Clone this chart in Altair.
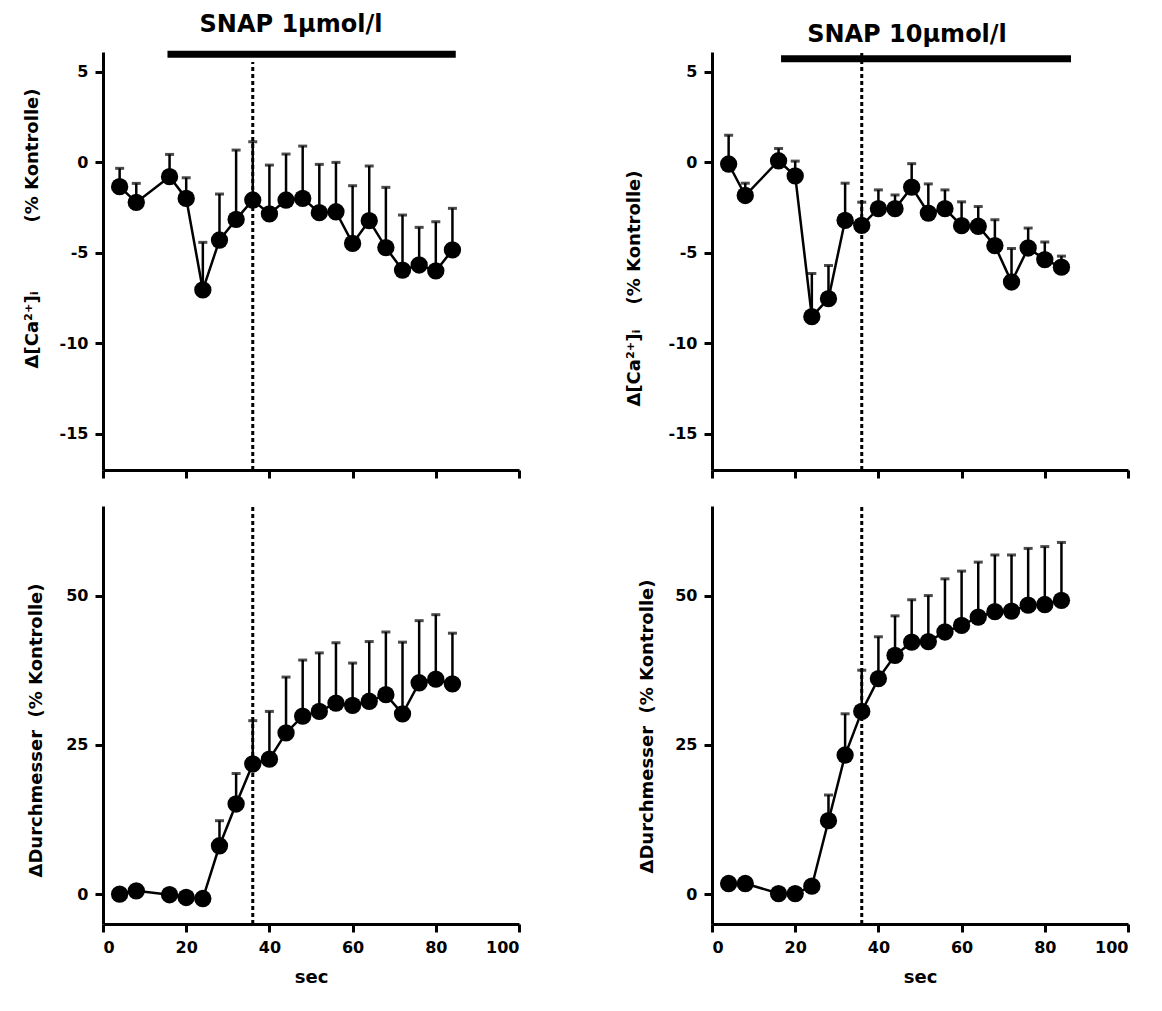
import altair as alt
import pandas as pd

# ---------------- data ----------------
times = [4, 8, 16, 20, 24, 28, 32, 36, 40, 44, 48, 52, 56, 60, 64, 68, 72, 76, 80, 84]

ca1_mean = [-1.34, -2.21, -0.79, -1.99, -7.05, -4.29, -3.15, -2.08, -2.85, -2.08,
            -1.99, -2.78, -2.73, -4.48, -3.22, -4.71, -5.95, -5.67, -6.0, -4.84]
ca1_upper = [-0.33, -1.16, 0.44, -0.85, -4.42, -1.75, 0.68, 1.14, -0.15, 0.46,
             0.90, -0.11, 0.0, -1.29, -0.2, -1.38, -2.91, -3.59, -3.28, -2.54]

ca10_mean = [-0.09, -1.83, 0.09, -0.75, -8.52, -7.53, -3.2, -3.48, -2.56, -2.56,
             -1.37, -2.8, -2.56, -3.5, -3.53, -4.6, -6.61, -4.73, -5.37, -5.79]
ca10_upper = [1.5, -1.15, 0.77, 0.07, -6.14, -5.7, -1.15, -2.2, -1.52, -1.8,
              -0.07, -1.19, -1.52, -2.18, -2.44, -3.17, -4.76, -3.63, -4.4, -5.18]

d1_mean = [0.0, 0.56, -0.1, -0.56, -0.73, 8.1, 15.1, 21.8, 22.6, 27.0,
           29.8, 30.6, 32.0, 31.6, 32.3, 33.4, 30.2, 35.4, 36.0, 35.2]
d1_upper = [None, None, None, None, None, 12.3, 20.2, 29.05, 30.6, 36.35,
            39.2, 40.4, 42.1, 38.7, 42.3, 43.9, 42.2, 45.8, 46.8, 43.7]

d10_mean = [1.78, 1.78, 0.1, 0.1, 1.33, 12.3, 23.3, 30.6, 36.1, 40.0,
            42.2, 42.3, 43.9, 45.0, 46.4, 47.3, 47.4, 48.4, 48.5, 49.2]
d10_upper = [None, None, None, None, None, 16.6, 30.2, 37.5, 43.1, 46.6,
             49.3, 50.0, 52.8, 54.1, 55.6, 56.8, 56.8, 57.9, 58.2, 58.9]

x_ticks = [0, 20, 40, 60, 80, 100]
ca_ticks = [5, 0, -5, -10, -15]
d_ticks = [0, 25, 50]
ca_domain = [-17, 6.1]
d_domain = [-5, 65]
marker_time = 36

titles = ["SNAP 1\u00b5mol/l", "SNAP 10\u00b5mol/l"]
bar1 = [15.5, 84.8, 5.97]
bar10 = [16.6, 86.3, 5.73]

NB = "\u00a0"
ca_title_1 = "\u0394[Ca\u00b2\u207a]\u1d62" + NB * 11 + "(% Kontrolle)"
ca_title_10 = "\u0394[Ca\u00b2\u207a]\u1d62" + NB * 4 + "(% Kontrolle)"
d_title = "\u0394Durchmesser" + NB * 2 + "(% Kontrolle)"

FONT = "DejaVu Sans"
AX = dict(domainColor="black", domainWidth=3, tickColor="black", tickWidth=3,
          tickSize=8, labelFont=FONT, labelFontWeight="bold", labelFontSize=16,
          labelColor="black", labelPadding=7, titleFont=FONT,
          titleFontWeight="bold", titleFontSize=18, titleColor="black", grid=False,
          labelExpr="replace(datum.label, '\u2212', '-')")

W, H = 416, 418


def panel(mean, upper, ydom, yticks, ytitle, tX, tY, xlabels,
          title_text=None, title_dx=0, title_offset=10, bar=None, dot_top=None):
    df = pd.DataFrame({"t": times, "m": mean, "u": upper})

    if xlabels:
        xaxis = alt.Axis(values=x_ticks, title="sec", titleY=44, **AX)
    else:
        xaxis = alt.Axis(values=x_ticks, labels=False, title="", **AX)
    yaxis = alt.Axis(values=yticks, title=ytitle, titleX=tX, titleY=tY, **AX)

    def xs(f):
        return alt.X(f"{f}:Q", scale=alt.Scale(domain=[0, 100], nice=False, zero=False), axis=xaxis)

    def ys(f):
        return alt.Y(f"{f}:Q", scale=alt.Scale(domain=ydom, nice=False, zero=False), axis=yaxis)

    base = alt.Chart(df)
    err = base.transform_filter("isValid(datum.u)").mark_rule(
        color="black", strokeWidth=2.5).encode(x=xs("t"), y=ys("m"), y2="u:Q")
    cap = base.transform_filter("isValid(datum.u)").mark_tick(
        orient="horizontal", color="black", size=9, thickness=3).encode(x=xs("t"), y=ys("u"))
    line = base.mark_line(color="black", strokeWidth=2.5).encode(x=xs("t"), y=ys("m"))
    pts = base.mark_circle(color="black", size=300, opacity=1).encode(x=xs("t"), y=ys("m"))

    dot_df = pd.DataFrame({"t": [marker_time], "y0": [ydom[0]], "y1": [dot_top if dot_top is not None else ydom[1]]})
    dots = alt.Chart(dot_df).mark_rule(color="black", strokeWidth=3, strokeDash=[4, 3]).encode(
        x=xs("t"), y=ys("y0"), y2="y1:Q")

    layers = [dots, err, cap, line, pts]
    if bar is not None:
        bar_df = pd.DataFrame({"t0": [bar[0]], "t1": [bar[1]], "yb": [bar[2]]})
        barl = alt.Chart(bar_df).mark_rule(color="black", strokeWidth=7).encode(
            x=xs("t0"), x2="t1:Q", y=ys("yb"))
        layers.append(barl)

    ch = alt.layer(*layers).properties(width=W, height=H)
    if title_text is not None:
        ch = ch.properties(title=alt.TitleParams(
            text=title_text, font=FONT, fontSize=24, fontWeight="bold", color="black",
            anchor="middle", dx=title_dx, offset=title_offset))
    return ch


TL = panel(ca1_mean, ca1_upper, ca_domain, ca_ticks, ca_title_1, -62, 176, False,
           title_text=titles[0], title_dx=-20, title_offset=14, bar=bar1, dot_top=5.55)
TR = panel(ca10_mean, ca10_upper, ca_domain, ca_ticks, ca_title_10, -69, 236, False,
           title_text=titles[1], title_dx=-13, title_offset=4, bar=bar10)
BL = panel(d1_mean, d1_upper, d_domain, d_ticks, d_title, -58, 224, True)
BR = panel(d10_mean, d10_upper, d_domain, d_ticks, d_title, -56, 220, True)

chart = alt.concat(TL, TR, BL, BR, columns=2, spacing={"row": 24, "column": 103}).properties(
    padding={"left": 14, "top": 4, "right": 5, "bottom": 5}
).configure_view(stroke="transparent")

chart.save("out.html", embed_options={"renderer": "svg", "actions": False})
